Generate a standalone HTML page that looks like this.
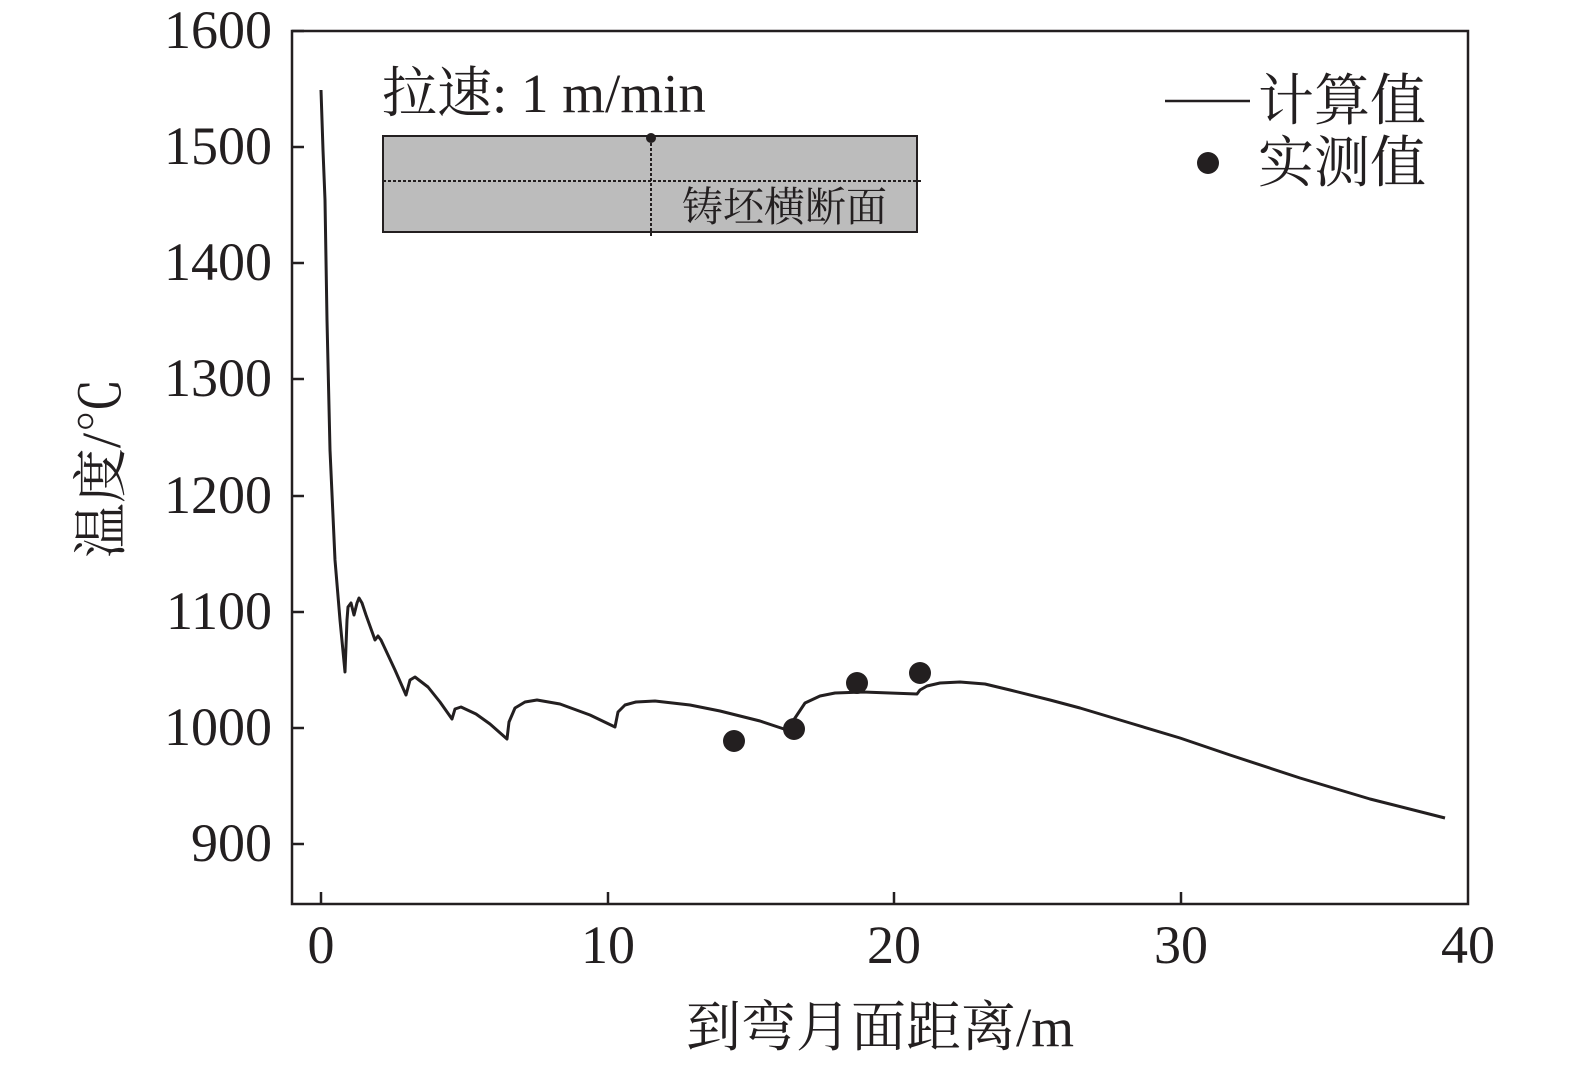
<!DOCTYPE html>
<html><head><meta charset="utf-8"><style>body{margin:0;background:#fff}</style></head><body>
<svg width="1575" height="1070" xmlns="http://www.w3.org/2000/svg" style="font-family:'Liberation Serif','Noto Serif CJK SC',serif">
<rect x="292" y="31" width="1176" height="873" fill="none" stroke="#231f20" stroke-width="2.5"/>
<g stroke="#231f20" stroke-width="2.5">
<line x1="292" y1="31" x2="304" y2="31"/><line x1="292" y1="147" x2="304" y2="147"/><line x1="292" y1="263" x2="304" y2="263"/><line x1="292" y1="379" x2="304" y2="379"/><line x1="292" y1="496" x2="304" y2="496"/><line x1="292" y1="612" x2="304" y2="612"/><line x1="292" y1="728" x2="304" y2="728"/><line x1="292" y1="844" x2="304" y2="844"/>
<line x1="321" y1="904" x2="321" y2="892"/><line x1="608" y1="904" x2="608" y2="892"/><line x1="894" y1="904" x2="894" y2="892"/><line x1="1181" y1="904" x2="1181" y2="892"/>
</g>
<g font-size="54" fill="#231f20" text-anchor="end">
<text x="272" y="48">1600</text><text x="272" y="164">1500</text><text x="272" y="280">1400</text><text x="272" y="396">1300</text><text x="272" y="513">1200</text><text x="272" y="629">1100</text><text x="272" y="745">1000</text><text x="272" y="861">900</text>
</g>
<g font-size="54" fill="#231f20" text-anchor="middle">
<text x="321" y="963">0</text><text x="608" y="963">10</text><text x="894" y="963">20</text><text x="1181" y="963">30</text><text x="1468" y="963">40</text>
<text x="880" y="1046" font-size="55">到弯月面距离/m</text>
</g>
<text transform="translate(120,468) rotate(-90)" font-size="55" fill="#231f20" text-anchor="middle">温度/℃</text>
<text x="382" y="112" font-size="55" fill="#231f20">拉速: 1 m/min</text>
<rect x="383" y="136" width="534" height="96" fill="#bcbcbc" stroke="#231f20" stroke-width="2"/>
<line x1="383" y1="181" x2="921" y2="181" stroke="#231f20" stroke-width="2" stroke-dasharray="3,2"/>
<line x1="651" y1="138" x2="651" y2="236" stroke="#231f20" stroke-width="2" stroke-dasharray="3,2"/>
<circle cx="651" cy="138" r="5" fill="#231f20"/>
<text x="682" y="221" font-size="41" fill="#231f20">铸坯横断面</text>
<line x1="1165" y1="101" x2="1250" y2="101" stroke="#231f20" stroke-width="2.5"/>
<text x="1258" y="120" font-size="56" fill="#231f20">计算值</text>
<circle cx="1208" cy="163" r="11" fill="#231f20"/>
<text x="1258" y="182" font-size="56" fill="#231f20">实测值</text>
<polyline fill="none" stroke="#231f20" stroke-width="3" stroke-linejoin="round" points="321,90 323,150 325,200 327,320 330,450 335,560 340,620 345,672 347,620 348,607 351,603 354,615 357,603 359,598 362,603 366,615 375,640 378,636 381,640 395,670 406,695 410,680 415,677 428,687 440,702 452,719 455,709 461,707 476,714 490,724 507,739 509,722 515,708 525,702 537,700 560,704 590,715 615,727 618,712 625,705 636,702 655,701 690,705 720,711 760,721 787,730 795,718 805,703 820,696 835,693 863,692 890,693 917,694 920,690 927,686 940,683 960,682 985,684 1010,690 1050,700 1080,708 1130,723 1180,738 1230,755 1300,778 1370,799 1445,818"/>
<g fill="#231f20"><circle cx="734" cy="741" r="11"/><circle cx="794" cy="729" r="11"/><circle cx="857" cy="683" r="11"/><circle cx="920" cy="673" r="11"/></g>
</svg>
</body></html>
